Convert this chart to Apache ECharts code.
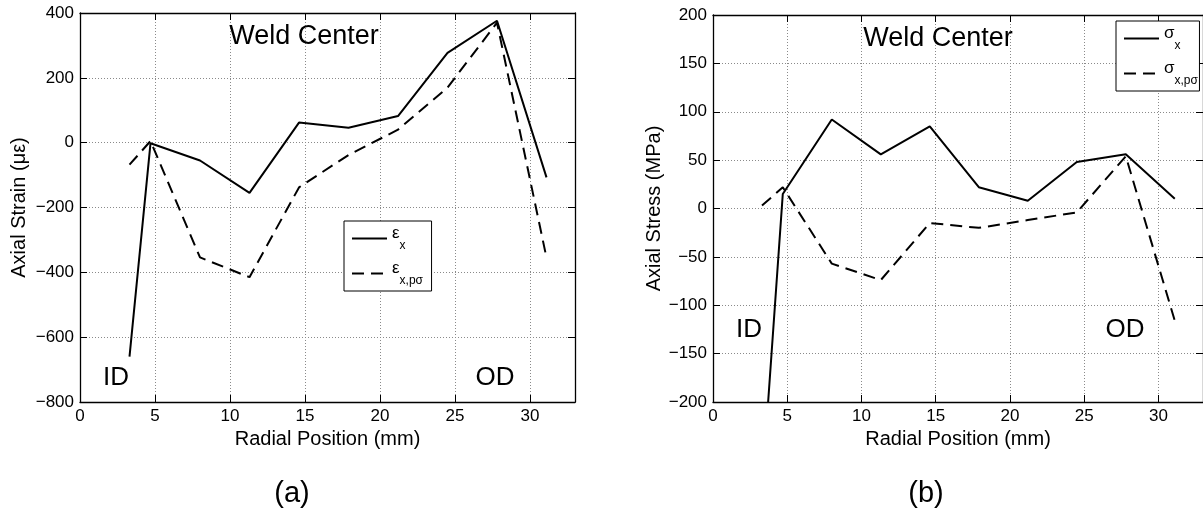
<!DOCTYPE html>
<html><head><meta charset="utf-8">
<script src="https://cdn.jsdelivr.net/npm/echarts@6/dist/echarts.min.js"></script>
<style>html,body{margin:0;padding:0;background:#fff}#c{width:1203px;height:510px}</style>
</head><body><div id="c"></div>
<script>
// ---- data ----
const radialPos  = [3.3, 4.7, 8.0, 11.3, 14.6, 17.9, 21.2, 24.5, 27.8, 31.1];
const strainX    = [-660, -2, -55, -155, 62, 46, 82, 277, 376, -107];
const strainXps  = [-68, 5, -354, -415, -138, -38, 40, 170, 370, -355];
const stressX    = [-290, 15, 92, 56, 85, 22, 8, 48, 56, 10];
const stressXps  = [3, 22, -57, -74, -15, -20, -12, -4, 54, -116];
const xRange     = [0, 33];  const xStep = 5;
const strainRange = [-800, 400]; const strainStep = 200;
const stressRange = [-200, 200]; const stressStep = 50;
const seriesNames = ['εx', 'εxpσ', 'σx', 'σxpσ'];
const legendLabels = {
  'εx': '{a|ε}{b|x}{c| }', 'εxpσ': '{a|ε}{b|x,pσ}{c| }',
  'σx': '{a|σ}{b|x}{c| }', 'σxpσ': '{a|σ}{b|x,pσ}{c| }'
};

const FONT = '"Liberation Sans", Arial, Helvetica, sans-serif';
const pairs = (xs, ys) => xs.map((x, i) => [x, ys[i]]);
const minus = v => String(v).replace('-', '\u2212');

const lineAx = {show: true, onZero: false, lineStyle: {color: '#000', width: 1.3}};
const tickAx = {show: true, inside: true, length: 7, lineStyle: {color: '#000', width: 1}};
const gridLine = {show: true, showMinLine: false, showMaxLine: false, lineStyle: {type: [1, 2], color: '#8a8a8a', width: 1}};

function xBottom(g) {
  return {gridIndex: g, type: 'value', position: 'bottom', min: xRange[0], max: xRange[1], interval: xStep,
    name: 'Radial Position (mm)', nameLocation: 'middle', nameGap: 25,
    nameTextStyle: {fontFamily: FONT, fontSize: 20, color: '#000'},
    axisLine: lineAx, axisTick: tickAx,
    axisLabel: {fontFamily: FONT, fontSize: 17, color: '#000', margin: 6, showMaxLabel: false,
      formatter: v => (v % xStep === 0 ? minus(v) : '')},
    splitLine: gridLine};
}
function xTop(g) {
  return {gridIndex: g, type: 'value', position: 'top', min: xRange[0], max: xRange[1], interval: xStep,
    axisLine: lineAx, axisTick: tickAx, axisLabel: {show: false}, splitLine: {show: false}};
}
function yLeft(g, range, step, name, gap) {
  return {gridIndex: g, type: 'value', position: 'left', min: range[0], max: range[1], interval: step,
    name: name, nameLocation: 'middle', nameGap: gap, nameRotate: 90,
    nameTextStyle: {fontFamily: FONT, fontSize: 20, color: '#000'},
    axisLine: lineAx, axisTick: tickAx,
    axisLabel: {fontFamily: FONT, fontSize: 17, color: '#000', margin: 6, formatter: minus},
    splitLine: gridLine};
}
function yRight(g, range, step) {
  return {gridIndex: g, type: 'value', position: 'right', min: range[0], max: range[1], interval: step,
    axisLine: lineAx, axisTick: tickAx, axisLabel: {show: false}, splitLine: {show: false}};
}
function lineSeries(name, xi, data, dashed) {
  return {name: name, type: 'line', xAxisIndex: xi, yAxisIndex: xi, data: data,
    symbol: 'none', clip: true, silent: true,
    itemStyle: {color: '#000'},
    lineStyle: {color: '#000', width: 2, type: dashed ? [12, 7] : 'solid'}};
}
const legendRich = {
  a: {fontFamily: FONT, fontSize: 17, lineHeight: 16, verticalAlign: 'top', color: '#000'},
  b: {fontFamily: FONT, fontSize: 12, lineHeight: 13, verticalAlign: 'bottom', color: '#000'},
  c: {fontFamily: FONT, fontSize: 2, lineHeight: 27, color: '#000'}
};
function legend(names, left, top, padRight) {
  return {data: names, left: left, top: top, orient: 'vertical', selectedMode: false,
    padding: [4, padRight, 4, 7], itemGap: 8, itemWidth: 35, itemHeight: 14,
    backgroundColor: '#fff', borderColor: '#000', borderWidth: 1, borderRadius: 0,
    itemStyle: {opacity: 0},
    formatter: n => legendLabels[n],
    textStyle: {rich: legendRich}};
}
function txt(text, x, y, size) {
  return {type: 'text', x: x, y: y, z: 100,
    style: {text: text, font: size + 'px ' + FONT, fill: '#000', textAlign: 'center', textVerticalAlign: 'middle'}};
}

const chart = echarts.init(document.getElementById('c'), null, {renderer: 'canvas'});
chart.setOption({
  animation: false,
  backgroundColor: '#fff',
  grid: [
    {left: 80, top: 13, width: 495, height: 389, containLabel: false},
    {left: 713, top: 15, width: 492, height: 387, containLabel: false}
  ],
  xAxis: [xBottom(0), xTop(0), xBottom(1), xTop(1)],
  yAxis: [
    yLeft(0, strainRange, strainStep, 'Axial Strain (με)', 51), yRight(0, strainRange, strainStep),
    yLeft(1, stressRange, stressStep, 'Axial Stress (MPa)', 47), yRight(1, stressRange, stressStep)
  ],
  legend: [legend([seriesNames[0], seriesNames[1]], 344, 221, 8), legend([seriesNames[2], seriesNames[3]], 1116, 21, 1)],
  series: [
    lineSeries(seriesNames[0], 0, pairs(radialPos, strainX), false),
    lineSeries(seriesNames[1], 0, pairs(radialPos, strainXps), true),
    lineSeries(seriesNames[2], 2, pairs(radialPos, stressX), false),
    lineSeries(seriesNames[3], 2, pairs(radialPos, stressXps), true)
  ],
  graphic: [
    txt('Weld Center', 304, 37, 27), txt('Weld Center', 938, 39, 27),
    txt('ID', 116, 378, 26), txt('OD', 495, 378, 26),
    txt('ID', 749, 330, 26), txt('OD', 1125, 330, 26),
    txt('(a)', 292, 494, 29), txt('(b)', 926, 494, 29)
  ]
});
</script></body></html>
